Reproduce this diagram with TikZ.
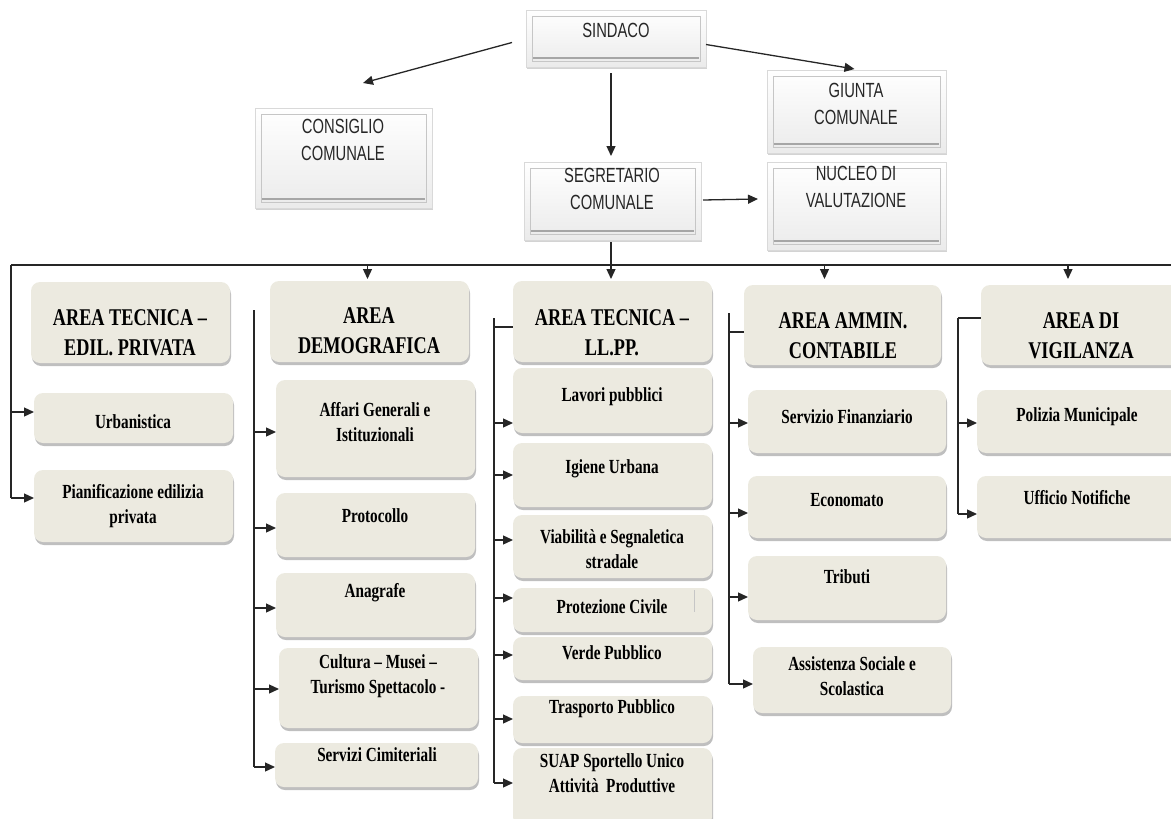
\documentclass[tikz,border=0pt]{standalone}
\usepackage{fontspec}
\setmainfont{Liberation Serif}
\newfontfamily\topfont[FakeStretch=0.72]{Liberation Sans}
\newfontfamily\boxfont[FakeStretch=0.76]{Liberation Serif}
\usetikzlibrary{arrows.meta,shadows,calc}
\definecolor{areafill}{RGB}{236,234,224}
\tikzset{
 topbox/.style={draw=gray!30, top color=white, bottom color=gray!16, inner sep=0pt, outer sep=0pt,
   drop shadow={shadow xshift=1pt, shadow yshift=-2pt, opacity=0.35},
   path picture={
     \draw[gray!45, line width=0.8pt] ([xshift=6pt,yshift=6pt]path picture bounding box.south west) rectangle ([xshift=-6pt,yshift=-6pt]path picture bounding box.north east);
     \draw[gray!70, line width=2.2pt] ([xshift=7pt,yshift=9pt]path picture bounding box.south west) -- ([xshift=-7pt,yshift=9pt]path picture bounding box.south east);}},
 areabox/.style={fill=areafill, rounded corners=9pt, inner sep=0pt, outer sep=0pt,
   drop shadow={shadow xshift=1pt, shadow yshift=-3pt, opacity=0.5}},
 toptext/.style={font=\topfont\fontsize{20.5}{27}\selectfont, text=black!85, align=center, inner sep=0pt},
 headtext/.style={font=\boxfont\bfseries\fontsize{24}{30}\selectfont, align=center, inner sep=0pt},
 subtext/.style={font=\boxfont\bfseries\fontsize{20}{24.5}\selectfont, align=center, inner sep=0pt},
 conn/.style={line width=1.3pt, draw=black!85},
 arr/.style={conn, -{Triangle[length=10pt,width=9pt]}},
}
\newcommand\bx[6]{\node[#1, minimum width={#5-#3}, minimum height={#6-#4}] (#2) at ({(#3+#5)/2},{(#4+#6)/2}) {};}
\begin{document}
\begin{tikzpicture}[x=1pt,y=-1pt]
\useasboundingbox (0,0) rectangle (1171,819);
\clip (0,0) rectangle (1171,819);

% ---------- connector lines (drawn first, under boxes) ----------
\coordinate (busL) at (11,265);
\coordinate (busR) at (1171,265);
\draw[conn] (busL) -- (busR);
% column spines
\coordinate (edilB) at (11,498);
\draw[conn] (busL) -- (edilB);
\coordinate (demoT) at (254,310);
\coordinate (demoB) at (254,767);
\draw[conn] (demoT) -- (demoB);
\coordinate (llppT) at (494,318);
\coordinate (llppB) at (494,783);
\draw[conn] (llppT) -- (llppB);
\coordinate (ammT) at (729,313);
\coordinate (ammB) at (729,684);
\draw[conn] (ammT) -- (ammB);
\coordinate (vigT) at (958,318);
\coordinate (vigB) at (958,514);
\draw[conn] (vigT) -- (vigB);

% ---------- top boxes ----------
\bx{topbox}{sindaco}{526}{10}{706}{67}
\bx{topbox}{consiglio}{255}{108}{432}{208}
\bx{topbox}{giunta}{767}{70}{946}{153}
\bx{topbox}{segretario}{524}{162}{701}{240}
\bx{topbox}{nucleo}{767}{162}{946}{250}
\node[toptext] (t-sindaco) at (616,30) {SINDACO};
\node[toptext] (t-consiglio) at (343,140) {CONSIGLIO\\COMUNALE};
\node[toptext] (t-giunta) at (856,104) {GIUNTA\\COMUNALE};
\node[toptext] (t-segretario) at (612,189) {SEGRETARIO\\COMUNALE};
\node[toptext] (t-nucleo) at (856,187) {NUCLEO DI\\VALUTAZIONE};

% ---------- area headers ----------
\bx{areabox}{hedil}{31}{282}{230}{363}
\bx{areabox}{hdemo}{270}{281}{469}{362}
\bx{areabox}{hllpp}{513}{281}{712}{362}
\bx{areabox}{hamm}{744}{285}{941}{365}
\bx{areabox}{hvig}{981}{285}{1185}{365}
\node[headtext] (t-hedil) at (130,333) {AREA TECNICA –\\EDIL. PRIVATA};
\node[headtext] (t-hdemo) at (369,331) {AREA\\DEMOGRAFICA};
\node[headtext] (t-hllpp) at (612,333) {AREA TECNICA –\\LL.PP.};
\node[headtext] (t-hamm) at (843,336) {AREA AMMIN.\\CONTABILE};
\node[headtext] (t-hvig) at (1081,336) {AREA DI\\VIGILANZA};

% ---------- sub boxes ----------
\bx{areabox}{urb}{34}{393}{233}{443}
\bx{areabox}{pian}{34}{470}{233}{542}
\bx{areabox}{affari}{276}{380}{475}{477}
\bx{areabox}{proto}{276}{493}{475}{557}
\bx{areabox}{anag}{276}{573}{475}{637}
\bx{areabox}{cult}{279}{648}{478}{728}
\bx{areabox}{cimit}{275}{743}{478}{787}
\bx{areabox}{lavori}{513}{368}{712}{433}
\bx{areabox}{igiene}{513}{443}{712}{507}
\bx{areabox}{viab}{513}{515}{712}{578}
\bx{areabox}{prot}{513}{588}{712}{632}
\bx{areabox}{verde}{513}{637}{712}{680}
\bx{areabox}{trasp}{513}{696}{712}{743}
\bx{areabox}{suap}{513}{748}{712}{826}
\bx{areabox}{servfin}{748}{390}{946}{453}
\bx{areabox}{econ}{748}{476}{946}{538}
\bx{areabox}{trib}{748}{556}{946}{620}
\bx{areabox}{assist}{753}{647}{951}{713}
\bx{areabox}{poliz}{977}{390}{1185}{453}
\bx{areabox}{uffic}{977}{476}{1185}{538}
\draw[gray!45, line width=0.6pt] (694,590) -- (694,612);

\node[subtext] (t-urb) at (133,422) {Urbanistica};
\node[subtext] (t-pian) at (133,506) {Pianificazione edilizia\\privata};
\node[subtext] (t-affari) at (375,422) {Affari Generali e\\Istituzionali};
\node[subtext] (t-proto) at (375,516) {Protocollo};
\node[subtext] (t-anag) at (375,593) {Anagrafe};
\node[subtext] (t-cult) at (378,676) {Cultura – Musei –\\Turismo Spettacolo -};
\node[subtext] (t-cimit) at (377,755) {Servizi Cimiteriali};
\node[subtext] (t-lavori) at (612,397) {Lavori pubblici};
\node[subtext] (t-igiene) at (612,469) {Igiene Urbana};
\node[subtext] (t-viab) at (612,549) {Viabilità e Segnaletica\\stradale};
\node[subtext] (t-prot) at (612,607) {Protezione Civile};
\node[subtext] (t-verde) at (612,653) {Verde Pubblico};
\node[subtext] (t-trasp) at (612,709) {Trasporto Pubblico};
\node[subtext] (t-suap) at (612,773) {SUAP Sportello Unico\\Attività~ Produttive};
\node[subtext] (t-servfin) at (847,417) {Servizio Finanziario};
\node[subtext] (t-econ) at (847,500) {Economato};
\node[subtext] (t-trib) at (847,577) {Tributi};
\node[subtext] (t-assist) at (852,676) {Assistenza Sociale e\\Scolastica};
\node[subtext] (t-poliz) at (1077,417) {Polizia Municipale};
\node[subtext] (t-uffic) at (1077,498) {Ufficio Notifiche};

% ---------- top arrows ----------
\coordinate (consA) at (363,83);
\draw[arr] ($(sindaco.west)+(-14,4)$) -- (consA);
\draw[arr] ($(sindaco.east)+(0,6)$) -- ($(giunta.north)+(-2,-1)$);
\draw[arr] ($(sindaco.south)+(-5,6)$) -- ($(segretario.north)+(-1.5,-6)$);
\draw[arr] ($(segretario.east)+(2,-1)$) -- ($(nucleo.west)+(-9,-7)$);
\draw[arr] ($(segretario.south)+(-1.5,2)$) -- ($(hllpp.north)+(-1.5,-2)$);

% ---------- bus arrows ----------
\draw[arr] (hdemo.north |- busL) ++(-2,0) -- ($(hdemo.north)+(-2,-2)$);
\draw[arr] (hamm.north |- busL) ++(-18,0) -- ($(hamm.north)+(-18,-6)$);
\draw[arr] (hvig.north |- busL) ++(-15,0) -- ($(hvig.north)+(-15,-6)$);

% ---------- header stubs ----------
\draw[conn] (llppT |- 0,327) -- (hllpp.west |- 0,327);
\draw[conn] (ammT |- 0,332) -- (hamm.west |- 0,332);
\draw[conn] (vigT) -- (hvig.west |- vigT);

% ---------- branch arrows ----------
\draw[arr] (11,412) -- (urb.west |- 0,412);
\draw[arr] (edilB) -- (pian.west |- edilB);
\draw[arr] (254,432) -- (affari.west |- 0,432);
\draw[arr] (254,528) -- (proto.west |- 0,528);
\draw[arr] (254,608) -- (anag.west |- 0,608);
\draw[arr] (254,689) -- (cult.west |- 0,689);
\draw[arr] (demoB) -- (cimit.west |- demoB);
\draw[arr] (494,423) -- (lavori.west |- 0,423);
\draw[arr] (494,475) -- (igiene.west |- 0,475);
\draw[arr] (494,540) -- (viab.west |- 0,540);
\draw[arr] (494,598) -- (prot.west |- 0,598);
\draw[arr] (494,655) -- (verde.west |- 0,655);
\draw[arr] (494,719) -- (trasp.west |- 0,719);
\draw[arr] (llppB) -- (suap.west |- llppB);
\draw[arr] (729,423) -- (servfin.west |- 0,423);
\draw[arr] (729,513) -- (econ.west |- 0,513);
\draw[arr] (729,597) -- (trib.west |- 0,597);
\draw[arr] (ammB) -- (assist.west |- ammB);
\draw[arr] (958,423) -- (poliz.west |- 0,423);
\draw[arr] (vigB) -- (uffic.west |- vigB);
\end{tikzpicture}
\end{document}
